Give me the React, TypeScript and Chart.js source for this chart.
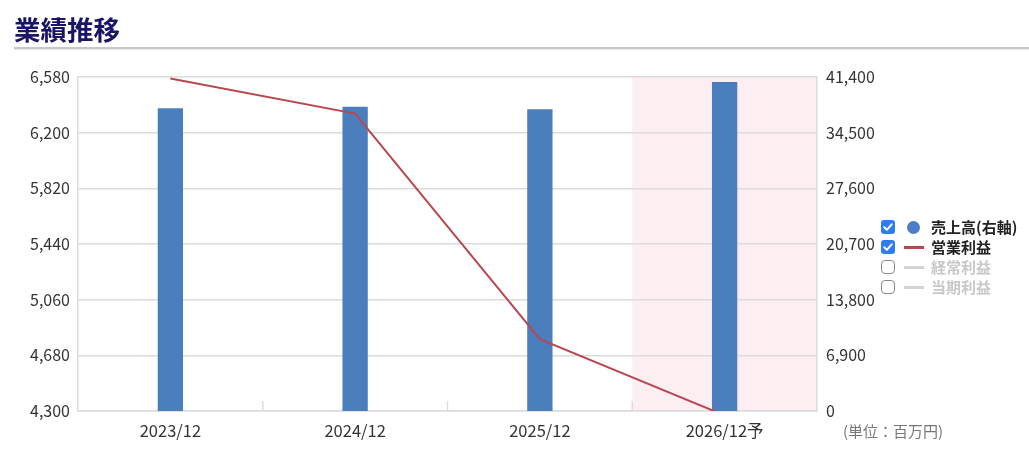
import React, { useEffect, useRef } from 'react';
import { Chart, registerables } from 'chart.js';

Chart.register(...registerables);

const categories = ['2023/12', '2024/12', '2025/12', '2026/12予'];
const salesValues = [37520, 37720, 37400, 40780];
const operatingProfitValues = [6570, 6330, 4790, 4270];
const leftTicks = [4300, 4680, 5060, 5440, 5820, 6200, 6580];
const rightTicks = [0, 6900, 13800, 20700, 27600, 34500, 41400];
const forecastIndex = 3;

const legendLabels = ['売上高(右軸)', '営業利益', '経常利益', '当期利益'];
const legendActive = [true, true, false, false];
const legendKinds = ['dot', 'line', 'line', 'line'];

const FONT = '"Noto Sans CJK JP", "Noto Sans", sans-serif';
const GRID = '#dcdcdc';
const BAR = '#4a7ebd';
const LINE = '#b9474f';

const fmt = (v: number) => v.toLocaleString('en-US');

const decorPlugin = {
  id: 'decor',
  beforeDraw(chart: any) {
    const { ctx, chartArea, scales } = chart;
    const x = scales.x;
    const left = (x.getPixelForValue(forecastIndex - 1) + x.getPixelForValue(forecastIndex)) / 2;
    ctx.save();
    ctx.fillStyle = '#fdeef1';
    ctx.fillRect(left, chartArea.top, chartArea.right - left, chartArea.bottom - chartArea.top);
    ctx.restore();
  },
  beforeDatasetsDraw(chart: any) {
    const { ctx, chartArea, scales } = chart;
    const x = scales.x;
    ctx.save();
    ctx.strokeStyle = GRID;
    ctx.lineWidth = 1.5;
    for (let i = 0; i < categories.length - 1; i++) {
      const px = (x.getPixelForValue(i) + x.getPixelForValue(i + 1)) / 2;
      ctx.beginPath();
      ctx.moveTo(px, chartArea.bottom - 10);
      ctx.lineTo(px, chartArea.bottom);
      ctx.stroke();
    }
    ctx.restore();
  },
};

function ChartView() {
  const ref = useRef<HTMLCanvasElement | null>(null);
  useEffect(() => {
    if (!ref.current) return;
    const chart = new Chart(ref.current, {
      type: 'bar',
      data: {
        labels: categories,
        datasets: [
          {
            type: 'line',
            label: '営業利益',
            data: operatingProfitValues,
            yAxisID: 'yL',
            borderColor: LINE,
            backgroundColor: LINE,
            borderWidth: 2,
            pointRadius: 0,
            tension: 0,
            order: 0,
          } as any,
          {
            type: 'bar',
            label: '売上高(右軸)',
            data: salesValues,
            yAxisID: 'yR',
            backgroundColor: BAR,
            barPercentage: 0.137,
            categoryPercentage: 1,
            order: 1,
          } as any,
        ],
      },
      options: {
        animation: false,
        responsive: false,
        devicePixelRatio: 1,
        layout: { padding: { top: 77, left: 0, right: 0, bottom: 0 } },
        plugins: { legend: { display: false }, tooltip: { enabled: false }, title: { display: false } },
        scales: {
          x: {
            type: 'category',
            offset: true,
            grid: { display: false, drawTicks: false },
            border: { display: true, color: GRID, width: 1.5 },
            ticks: { color: '#333', font: { family: FONT, size: 16.5 }, padding: 10, maxRotation: 0 },
            afterFit: (s: any) => { s.height = 51; },
          },
          yL: {
            type: 'linear',
            position: 'left',
            min: leftTicks[0],
            max: leftTicks[leftTicks.length - 1],
            afterBuildTicks: (s: any) => { s.ticks = leftTicks.map((v) => ({ value: v })); },
            grid: { color: GRID, lineWidth: 1.5, drawTicks: false },
            border: { display: true, color: GRID, width: 1.5 },
            ticks: { color: '#333', font: { family: FONT, size: 16 }, padding: 8, callback: (v: any) => fmt(Number(v)) },
            afterFit: (s: any) => { s.width = 78; },
          },
          yR: {
            type: 'linear',
            position: 'right',
            min: rightTicks[0],
            max: rightTicks[rightTicks.length - 1],
            afterBuildTicks: (s: any) => { s.ticks = rightTicks.map((v) => ({ value: v })); },
            grid: { display: false, drawTicks: false },
            border: { display: true, color: GRID, width: 1.5 },
            ticks: { color: '#333', font: { family: FONT, size: 16 }, padding: 9, callback: (v: any) => fmt(Number(v)) },
            afterFit: (s: any) => { s.width = 212; },
          },
        },
      } as any,
      plugins: [decorPlugin],
    });
    return () => chart.destroy();
  }, []);
  return <canvas ref={ref} width={1029} height={462} style={{ position: 'absolute', left: 0, top: 0, width: 1029, height: 462 }} />;
}

function CheckBox({ checked }: { checked: boolean }) {
  if (checked) {
    return (
      <span style={{ display: 'inline-block', width: 14, height: 14, borderRadius: 3, background: '#2d7cf3', position: 'relative', boxSizing: 'border-box' }}>
        <svg width="14" height="14" viewBox="0 0 14 14" style={{ position: 'absolute', left: 0, top: 0 }}>
          <path d="M3.2 7.2 L5.9 9.9 L10.9 4.2" stroke="#fff" strokeWidth="2" fill="none" strokeLinecap="round" strokeLinejoin="round" />
        </svg>
      </span>
    );
  }
  return <span style={{ display: 'inline-block', width: 14, height: 14, borderRadius: 4, border: '1.5px solid #8a8a8a', background: '#fff', boxSizing: 'border-box' }} />;
}

function Legend() {
  return (
    <div>
      {legendLabels.map((label, i) => {
        const active = legendActive[i];
        const kind = legendKinds[i];
        return (
          <div key={label} style={{ position: 'absolute', left: 881, top: 217 + i * 20, height: 20, display: 'flex', alignItems: 'center', fontFamily: FONT, fontSize: 15, fontWeight: 700, color: active ? '#222' : '#c8c8c8', whiteSpace: 'nowrap' }}>
            <CheckBox checked={active} />
            {kind === 'dot' ? (
              <span style={{ display: 'inline-block', width: 13, height: 13, borderRadius: '50%', background: '#4a7ec8', marginLeft: 12, marginRight: 11 }} />
            ) : (
              <span style={{ display: 'inline-block', width: 20, height: 3, background: active ? LINE : '#d4d4d4', marginLeft: 9, marginRight: 7 }} />
            )}
            <span style={{ lineHeight: '20px' }}>{label}</span>
          </div>
        );
      })}
    </div>
  );
}

export default function App() {
  return (
    <div style={{ position: 'absolute', left: 0, top: 0, width: 1029, height: 462, background: '#fff', overflow: 'hidden' }}>
      <ChartView />
      <div style={{ position: 'absolute', left: 14, top: 16, fontFamily: FONT, fontSize: 26.5, lineHeight: '26px', fontWeight: 700, color: '#1a1466' }}>業績推移</div>
      <div style={{ position: 'absolute', left: 14, top: 47, width: 1015, height: 2, background: '#c8c8c8' }} />
      <div style={{ position: 'absolute', left: 14, top: 49, width: 1015, height: 1, background: '#e6e6e6' }} />
      <Legend />
      <div style={{ position: 'absolute', left: 843, top: 421, fontFamily: FONT, fontSize: 15, lineHeight: '20px', color: '#777' }}>(単位：百万円)</div>
    </div>
  );
}
